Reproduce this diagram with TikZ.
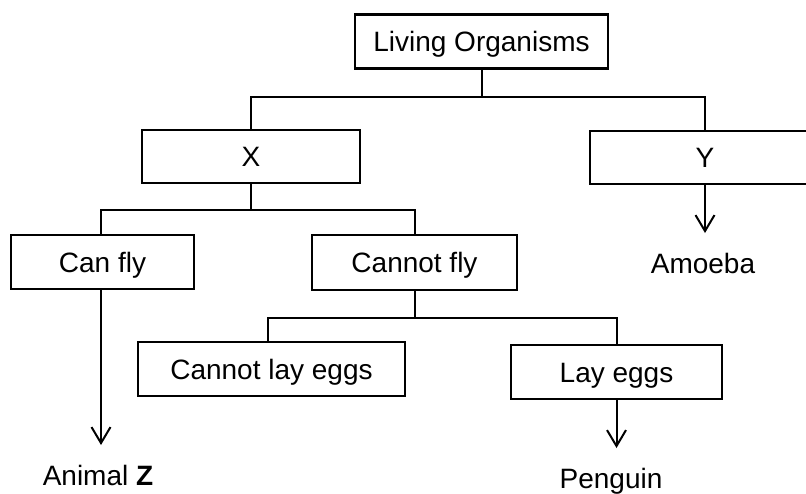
\documentclass[tikz,border=0pt]{standalone}
\usepackage{fontspec}
\setmainfont{Liberation Sans}
\newfontfamily\zbold{Liberation Sans Bold}
\usetikzlibrary{arrows.meta}
\begin{document}
\begin{tikzpicture}[x=1pt,y=-1pt,
  every node/.style={font=\fontsize{28}{32}\selectfont},
  box/.style={draw, line width=2.1pt, inner sep=0pt, text height=20pt, text depth=0pt},
  lbl/.style={inner sep=0pt, anchor=base},
  link/.style={line width=2pt},
  arr/.style={line width=2pt, -{Straight Barb[length=16pt,width=19pt,line width=2pt]}, shorten >=19.5pt}]
\useasboundingbox (0,0) rectangle (806,493);
\clip (0,0) rectangle (806,493);
\fill[white] (0,0) rectangle (806,493);

\node[box, minimum width=253pt, minimum height=54pt] (living) at (481.5,41.5) {Living Organisms};
\node[box, minimum width=218pt, minimum height=53pt] (x) at (251,156.5) {X};
\node[box, minimum width=230pt, minimum height=53pt] (y) at (705,157.5) {Y};
\node[box, minimum width=183pt, minimum height=54pt] (canfly) at (102.5,262) {Can fly};
\node[box, minimum width=205pt, minimum height=55pt] (cannotfly) at (414.5,262.5) {Cannot fly};
\node[box, minimum width=267pt, minimum height=54pt] (cnle) at (271.5,369) {Cannot lay eggs};
\node[box, minimum width=211pt, minimum height=54pt] (layeggs) at (616.5,372) {Lay eggs};

\node[lbl] (amoeba) at (703,273) {Amoeba};
\node[lbl] (animalz) at (98,485) {Animal {\zbold Z}};
\node[lbl] (penguin) at (611,488) {Penguin};

% Living Organisms -> X, Y
\draw[link] (living.south) -- ++(0,27) coordinate (j1);
\draw[link] (x.north) |- (j1) -| (y.north);
% X -> Can fly, Cannot fly
\draw[link] (x.south) -- ++(0,26) coordinate (j2);
\draw[link] (canfly.north -| 101,0) |- (j2) -| (cannotfly.north);
% Cannot fly -> Cannot lay eggs, Lay eggs
\draw[link] (cannotfly.south) -- ++(0,27) coordinate (j3);
\draw[link] (cnle.north -| 268,0) |- (j3) -| (layeggs.north);
% arrows
\draw[arr] (y.south) -- (y.south |- amoeba.north);
\draw[arr] (canfly.south -| 101,0) -- (animalz.north -| 101,0);
\draw[arr] (layeggs.south) -- (layeggs.south |- penguin.north);
\end{tikzpicture}
\end{document}
